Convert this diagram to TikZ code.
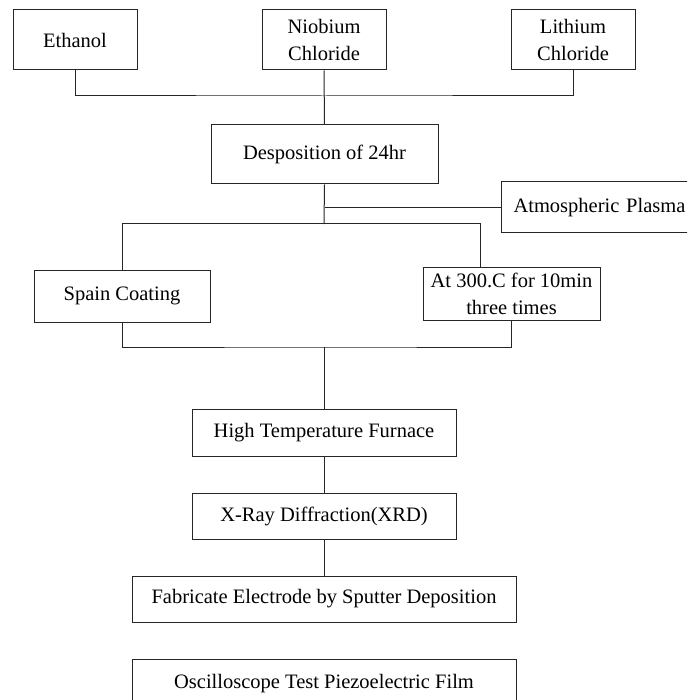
\documentclass[tikz,border=0pt]{standalone}
\usepackage{fontspec}
\setmainfont{Liberation Serif}
\begin{document}
\begin{tikzpicture}[x=1pt,y=-1pt,
  every node/.style={font=\fontsize{20.5}{27}\selectfont},
  box/.style={draw=black!85,line width=1pt,rectangle,inner sep=0pt,align=center},
  link/.style={draw=black!85,line width=1pt}]
\useasboundingbox (0,0) rectangle (687,700);
\clip (0,0) rectangle (687,700);

% starting materials
\node[box,minimum width=124pt,minimum height=60pt] (eth) at (75,40) {Ethanol};
\node[box,minimum width=124pt,minimum height=60pt] (nio) at (324,40) {Niobium\\Chloride};
\node[box,minimum width=124pt,minimum height=60pt] (lit) at (573,40) {Lithium\\Chloride};

% deposition and treatment
\node[box,minimum width=227pt,minimum height=59pt] (dep) at (324.5,154.5) {Desposition of 24hr};
\node[box,anchor=west,minimum height=51pt,text width=188pt,inner xsep=12pt,align=left] (atm) at (501,207.5) {Atmospheric Plasma};
\node[box,minimum width=176pt,minimum height=52pt] (spn) at (122,296) {Spain Coating};
\node[box,minimum width=177pt,minimum height=53pt] (hot) at (511.5,293.5) {At 300.C for 10min\\three times};

% processing chain
\node[box,minimum width=264pt,minimum height=47pt] (htf) at (324,432.5) {High Temperature Furnace};
\node[box,minimum width=264pt,minimum height=46pt] (xrd) at (324,516) {X-Ray Diffraction(XRD)};
\node[box,minimum width=384pt,minimum height=46pt] (fab) at (324,599) {Fabricate Electrode by Sputter Deposition};
\node[box,minimum width=384pt,minimum height=50pt] (osc) at (324,684) {Oscilloscope Test Piezoelectric Film};

% junction points
\coordinate (j1) at (324,96);
\coordinate (j2) at (324,224);
\coordinate (j2r) at (480,224);
\coordinate (j3) at (324,347);

% connectors
\draw[link] (eth.south) |- (j1) -| (lit.south);
\draw[link] (nio.south) -- (dep.north);
\draw[link] (dep.south) -- (j2);
\draw[link] (dep.south |- atm.west) -- (atm.west);
\draw[link] (spn.north) |- (j2r) -- (hot.north -| j2r);
\draw[link] (spn.south) |- (j3) -| (hot.south);
\draw[link] (j3) -- (htf.north);
\draw[link] (htf.south) -- (xrd.north);
\draw[link] (xrd.south) -- (fab.north);
\end{tikzpicture}
\end{document}
